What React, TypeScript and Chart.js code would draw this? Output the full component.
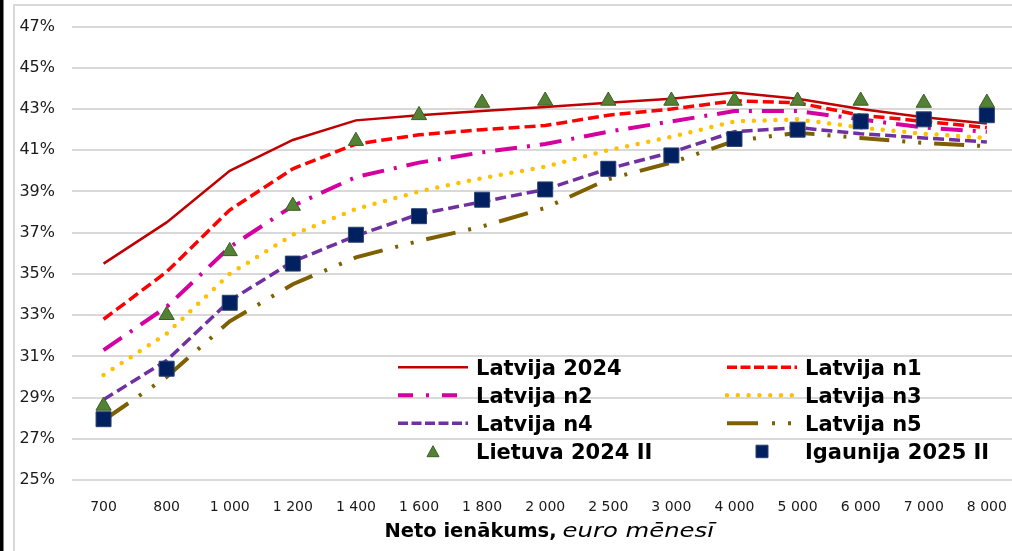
import React, { useEffect, useRef } from "react";
import { Chart, registerables } from "chart.js";

Chart.register(...registerables);

const incomeLabels = ["700", "800", "1 000", "1 200", "1 400", "1 600", "1 800", "2 000", "2 500", "3 000", "4 000", "5 000", "6 000", "7 000", "8 000"];
const latvija2024 = [35.5, 37.5, 40.0, 41.5, 42.45, 42.7, 42.9, 43.1, 43.3, 43.5, 43.8, 43.5, 43.0, 42.6, 42.3];
const latvijaN1 = [32.8, 35.1, 38.1, 40.1, 41.3, 41.75, 42.0, 42.2, 42.7, 43.0, 43.4, 43.3, 42.7, 42.4, 42.1];
const latvijaN2 = [31.3, 33.4, 36.3, 38.3, 39.7, 40.4, 40.9, 41.3, 41.9, 42.4, 42.9, 42.9, 42.5, 42.1, 41.9];
const latvijaN3 = [30.1, 32.1, 35.0, 36.9, 38.15, 39.0, 39.65, 40.2, 41.0, 41.65, 42.4, 42.5, 42.1, 41.8, 41.6];
const latvijaN4 = [28.9, 30.8, 33.7, 35.6, 36.85, 37.9, 38.5, 39.1, 40.1, 40.9, 41.9, 42.1, 41.8, 41.6, 41.4];
const latvijaN5 = [27.9, 30.0, 32.7, 34.5, 35.8, 36.6, 37.3, 38.2, 39.6, 40.4, 41.45, 41.85, 41.6, 41.35, 41.2];
const lietuva2024II = [28.6, 33.0, 36.1, 38.3, 41.45, 42.7, 43.3, 43.4, 43.4, 43.4, 43.4, 43.4, 43.4, 43.3, 43.3];
const igaunija2025II = [27.95, 30.4, 33.6, 35.5, 36.9, 37.8, 38.6, 39.1, 40.1, 40.75, 41.55, 42.0, 42.4, 42.5, 42.7];

const yMin = 25;
const yMax = 47;
const yStep = 2;

const seriesNames = ["Latvija 2024", "Latvija n1", "Latvija n2", "Latvija n3", "Latvija n4", "Latvija n5", "Lietuva 2024 II", "Igaunija 2025 II"];
const axisTitleBold = "Neto ienākums,";
const axisTitleItalic = "euro mēnesī";

const legendDashes: Record<string, number[]> = {
  "Latvija 2024": [],
  "Latvija n1": [10, 3.5],
  "Latvija n2": [15, 13, 3, 13],
  "Latvija n3": [0, 10.8],
  "Latvija n4": [10, 3.5],
  "Latvija n5": [31, 14, 3, 13, 3, 13],
};

const frameAndLegend = {
  id: "frameAndLegend",
  beforeDraw(chart: any) {
    const ctx = chart.ctx;
    const w = chart.width;
    const h = chart.height;
    ctx.save();
    ctx.fillStyle = "#ffffff";
    ctx.fillRect(0, 0, w, h);
    ctx.fillStyle = "#000000";
    ctx.fillRect(0, 0, 3.5, h);
    ctx.strokeStyle = "#d9d9d9";
    ctx.lineWidth = 2;
    ctx.beginPath();
    ctx.moveTo(14, h);
    ctx.lineTo(14, 5);
    ctx.lineTo(w, 5);
    ctx.stroke();
    ctx.restore();
  },
  afterDraw(chart: any) {
    const ctx = chart.ctx;
    const area = chart.chartArea;
    const lineX0 = [398, 727];
    const lineLen = 70;
    const textX = [476, 805];
    const baseY = [375, 403, 431, 459];
    ctx.save();
    chart.data.datasets.forEach((ds: any, i: number) => {
      const col = i % 2;
      const row = Math.floor(i / 2);
      const ly = baseY[row] - 7.8;
      const x0 = lineX0[col];
      if (ds.showLine !== false) {
        ctx.save();
        ctx.strokeStyle = ds.borderColor;
        ctx.lineWidth = ds.borderWidth;
        ctx.lineCap = ds.borderCapStyle || "butt";
        ctx.setLineDash(legendDashes[ds.label] || []);
        ctx.beginPath();
        ctx.moveTo(x0, ly);
        ctx.lineTo(x0 + lineLen, ly);
        ctx.stroke();
        ctx.restore();
      } else {
        const cx = x0 + lineLen / 2;
        ctx.save();
        ctx.fillStyle = ds.backgroundColor;
        ctx.strokeStyle = ds.borderColor;
        ctx.lineWidth = 1;
        ctx.beginPath();
        if (ds.pointStyle === "triangle") {
          ctx.moveTo(cx, ly - 5.5);
          ctx.lineTo(cx + 6, ly + 5.5);
          ctx.lineTo(cx - 6, ly + 5.5);
          ctx.closePath();
        } else {
          ctx.rect(cx - 6, ly - 6, 12, 12.5);
        }
        ctx.fill();
        ctx.stroke();
        ctx.restore();
      }
      ctx.fillStyle = "#000000";
      ctx.font = "bold 21px 'DejaVu Sans', Verdana, sans-serif";
      ctx.textAlign = "left";
      ctx.textBaseline = "alphabetic";
      ctx.fillText(ds.label, textX[col], baseY[row]);
    });

    // axis title: bold part + italic part
    ctx.font = "bold 19.5px 'DejaVu Sans', Verdana, sans-serif";
    const boldW = ctx.measureText(axisTitleBold).width;
    ctx.font = "oblique 19px 'DejaVu Sans', Verdana, sans-serif";
    const italScale = 1.28;
    const italW = ctx.measureText(axisTitleItalic).width * italScale;
    const gap = 6;
    const total = boldW + gap + italW;
    const cx = (area.left + area.right) / 2 + 4;
    const startX = cx - total / 2;
    const baseline = 537;
    ctx.fillStyle = "#000000";
    ctx.textAlign = "left";
    ctx.textBaseline = "alphabetic";
    ctx.font = "bold 19.5px 'DejaVu Sans', Verdana, sans-serif";
    ctx.fillText(axisTitleBold, startX, baseline);
    ctx.save();
    ctx.translate(startX + boldW + gap, baseline);
    ctx.scale(italScale, 1);
    ctx.font = "oblique 19px 'DejaVu Sans', Verdana, sans-serif";
    ctx.fillText(axisTitleItalic, 0, 0);
    ctx.restore();
    ctx.restore();
  },
};

export default function App() {
  const canvasRef = useRef<HTMLCanvasElement | null>(null);

  useEffect(() => {
    const canvas = canvasRef.current;
    if (!canvas) return;
    const lineDatasets = [
      { label: seriesNames[0], data: latvija2024, borderColor: "#C00000", borderWidth: 2.5, borderDash: [], borderCapStyle: "butt" },
      { label: seriesNames[1], data: latvijaN1, borderColor: "#FF0000", borderWidth: 3.5, borderDash: [11, 5], borderCapStyle: "butt" },
      { label: seriesNames[2], data: latvijaN2, borderColor: "#D4009F", borderWidth: 4, borderDash: [22, 10, 3, 10], borderCapStyle: "butt" },
      { label: seriesNames[3], data: latvijaN3, borderColor: "#FFC000", borderWidth: 4.5, borderDash: [0, 10.8], borderCapStyle: "round" },
      { label: seriesNames[4], data: latvijaN4, borderColor: "#7030A0", borderWidth: 3.5, borderDash: [11, 5], borderCapStyle: "butt" },
      { label: seriesNames[5], data: latvijaN5, borderColor: "#7F6000", borderWidth: 4, borderDash: [30, 13, 3, 13, 3, 13], borderCapStyle: "butt" },
    ].map((d) => ({
      ...d,
      type: "line" as const,
      fill: false,
      tension: 0,
      pointRadius: 0,
      order: 1,
    }));
    const markerDatasets = [
      {
        label: seriesNames[6],
        data: lietuva2024II,
        pointStyle: "triangle",
        pointRadius: 8.8,
        backgroundColor: "#548235",
        borderColor: "#3B5E25",
        pointBorderWidth: 1,
      },
      {
        label: seriesNames[7],
        data: igaunija2025II,
        pointStyle: "rect",
        pointRadius: 10.6,
        backgroundColor: "#002060",
        borderColor: "#2A4070",
        pointBorderWidth: 1,
      },
    ].map((d) => ({
      ...d,
      type: "line" as const,
      showLine: false,
      fill: false,
      borderWidth: 1,
      pointBackgroundColor: d.backgroundColor,
      pointBorderColor: d.borderColor,
      order: 0,
    }));

    const chart = new Chart(canvas, {
      type: "line",
      data: {
        labels: incomeLabels,
        datasets: [...lineDatasets, ...markerDatasets] as any,
      },
      options: {
        animation: false,
        responsive: false,
        devicePixelRatio: 1,
        events: [],
        layout: { padding: { left: 0, right: 8, top: 24, bottom: 0 } },
        plugins: {
          legend: { display: false },
          tooltip: { enabled: false },
          title: { display: false },
        },
        scales: {
          x: {
            type: "category",
            offset: true,
            grid: { display: false, drawTicks: false },
            border: { display: false },
            ticks: {
              color: "#1a1a1a",
              font: { family: "'DejaVu Sans', Verdana, sans-serif", size: 14 },
              padding: 19,
              autoSkip: false,
              maxRotation: 0,
              minRotation: 0,
            },
            afterFit: (scale: any) => {
              scale.height = 71;
            },
          },
          y: {
            min: yMin,
            max: yMax,
            grid: { color: "#d9d9d9", lineWidth: 2, drawTicks: false },
            border: { display: false },
            ticks: {
              stepSize: yStep,
              color: "#1a1a1a",
              font: { family: "'DejaVu Sans', Verdana, sans-serif", size: 16 },
              padding: 17,
              callback: (v: any) => `${v}%`,
            },
            afterFit: (scale: any) => {
              scale.width = 72;
            },
          },
        },
      },
      plugins: [frameAndLegend],
    });
    return () => chart.destroy();
  }, []);

  return (
    <div
      style={{
        position: "fixed",
        left: 0,
        top: 0,
        width: 1012,
        height: 551,
        overflow: "hidden",
        background: "#ffffff",
      }}
    >
      <canvas ref={canvasRef} width={1030} height={551} style={{ display: "block", width: 1030, height: 551 }} />
    </div>
  );
}
